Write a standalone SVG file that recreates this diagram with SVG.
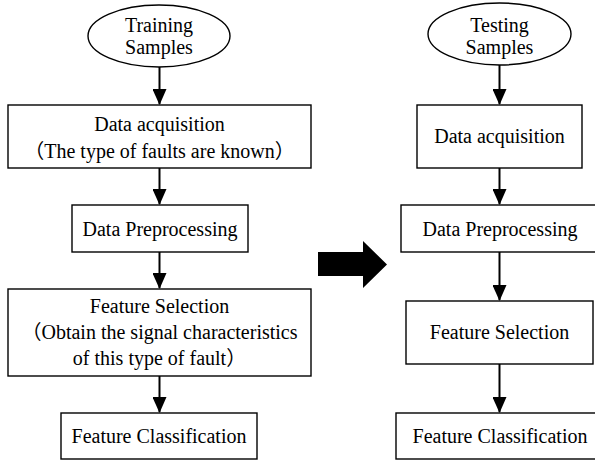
<svg xmlns="http://www.w3.org/2000/svg" width="595" height="460" viewBox="0 0 595 460">
<defs>
<style>
.n{fill:#fff;stroke:#000;stroke-width:1.4}
.t{font-family:"Liberation Serif","Noto Sans CJK SC",serif;font-size:20px;fill:#000;text-anchor:middle}
.c{stroke:#000;stroke-width:2;fill:none}
</style>
<marker id="ah" viewBox="0 0 16 14" refX="15" refY="7" markerWidth="16" markerHeight="14" markerUnits="userSpaceOnUse" orient="auto">
<path d="M0,0 L16,7 L0,14 Z" fill="#000"/>
</marker>
</defs>
<rect width="595" height="460" fill="#fff"/>
<g id="connectors">
<line class="c" x1="159.5" y1="67" x2="159.5" y2="104" marker-end="url(#ah)"/>
<line class="c" x1="159.5" y1="168" x2="159.5" y2="204" marker-end="url(#ah)"/>
<line class="c" x1="159.5" y1="252" x2="159.5" y2="288" marker-end="url(#ah)"/>
<line class="c" x1="159.5" y1="376" x2="159.5" y2="412" marker-end="url(#ah)"/>
<line class="c" x1="499.5" y1="65" x2="499.5" y2="104" marker-end="url(#ah)"/>
<line class="c" x1="499.5" y1="168" x2="499.5" y2="204" marker-end="url(#ah)"/>
<line class="c" x1="499.5" y1="252" x2="499.5" y2="300" marker-end="url(#ah)"/>
<line class="c" x1="499.5" y1="364" x2="499.5" y2="412" marker-end="url(#ah)"/>
<path id="bigArrow" d="M318,252 L363,252 L363,241 L387,264.5 L363,288 L363,276 L318,276 Z" fill="#000"/>
</g>
<g id="trainSamples">
<ellipse class="n" cx="159" cy="36" rx="71" ry="31"/>
<text class="t" x="159" y="32">Training</text>
<text class="t" x="159" y="54">Samples</text>
</g>
<g id="trainAcq">
<rect class="n" x="8" y="105" width="303" height="63"/>
<text class="t" x="159.5" y="131">Data acquisition</text>
<text class="t" x="159.5" y="158">（The type of faults are known）</text>
</g>
<g id="trainPre">
<rect class="n" x="72" y="205" width="176" height="47"/>
<text class="t" x="160" y="236">Data Preprocessing</text>
</g>
<g id="trainSel">
<rect class="n" x="8" y="289" width="303" height="87"/>
<text class="t" x="159.5" y="313">Feature Selection</text>
<text class="t" x="159.5" y="339">（Obtain the signal characteristics</text>
<text class="t" x="159.5" y="365">of this type of fault）</text>
</g>
<g id="trainCls">
<rect class="n" x="61" y="413" width="196" height="46"/>
<text class="t" x="159" y="443">Feature Classification</text>
</g>
<g id="testSamples">
<ellipse class="n" cx="499.5" cy="34" rx="71.5" ry="31"/>
<text class="t" x="499.5" y="32">Testing</text>
<text class="t" x="499.5" y="54">Samples</text>
</g>
<g id="testAcq">
<rect class="n" x="417" y="105" width="165" height="63"/>
<text class="t" x="499.5" y="143">Data acquisition</text>
</g>
<g id="testPre">
<rect class="n" x="401" y="205" width="198" height="47"/>
<text class="t" x="500" y="236">Data Preprocessing</text>
</g>
<g id="testSel">
<rect class="n" x="406" y="301" width="187" height="63"/>
<text class="t" x="499.5" y="339">Feature Selection</text>
</g>
<g id="testCls">
<rect class="n" x="396" y="413" width="208" height="46"/>
<text class="t" x="500" y="443">Feature Classification</text>
</g>
</svg>
